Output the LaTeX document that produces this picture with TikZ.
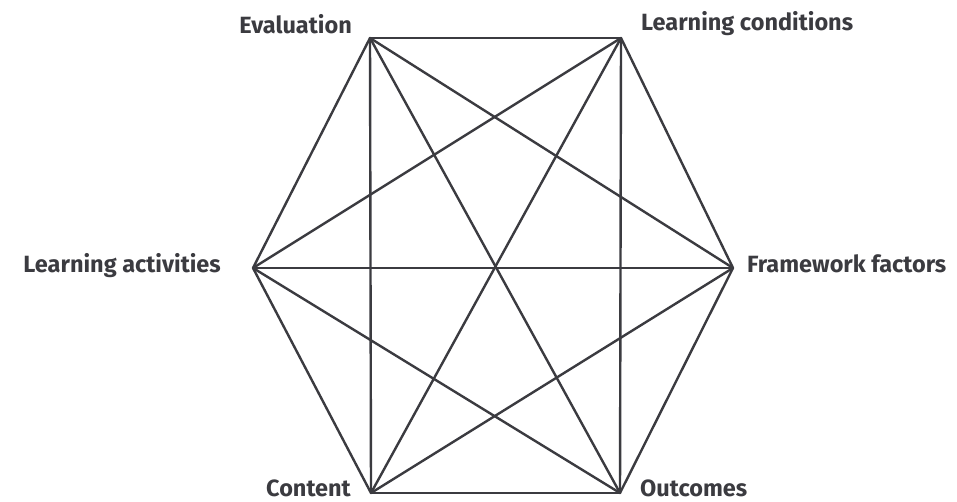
\documentclass[tikz,border=0pt]{standalone}
\usepackage{fontspec}
\setmainfont{Fira Sans}
\definecolor{ink}{HTML}{3B3B40}
\begin{document}
\begin{tikzpicture}[x=1pt,y=1pt,
  edge/.style={draw=ink,line width=2.4pt,line cap=round,line join=round},
  lbl/.style={text=ink,font=\fontsize{23.5}{26}\selectfont\bfseries,inner sep=0pt}]
\useasboundingbox (0,0) rectangle (957,502);
\coordinate (E) at (370,464);
\coordinate (LC) at (621,464);
\coordinate (FF) at (733,234);
\coordinate (O) at (620,9);
\coordinate (C) at (371,9);
\coordinate (LA) at (253,234);
\foreach \a/\b in {E/LC,E/FF,E/O,E/C,E/LA,LC/FF,LC/O,LC/C,LC/LA,FF/O,FF/C,FF/LA,O/C,O/LA,C/LA}
  \draw[edge] (\a) -- (\b);
\node[lbl,anchor=base east] (tE) at (352,468) {Evaluation};
\node[lbl,anchor=base west] (tLC) at (641,471) {Learning conditions};
\node[lbl,anchor=base east] (tLA) at (221,229) {Learning activities};
\node[lbl,anchor=base west] (tFF) at (747,229) {Framework factors};
\node[lbl,anchor=base east] (tC) at (351,5) {Content};
\node[lbl,anchor=base west] (tO) at (640,5) {Outcomes};
\end{tikzpicture}
\end{document}
